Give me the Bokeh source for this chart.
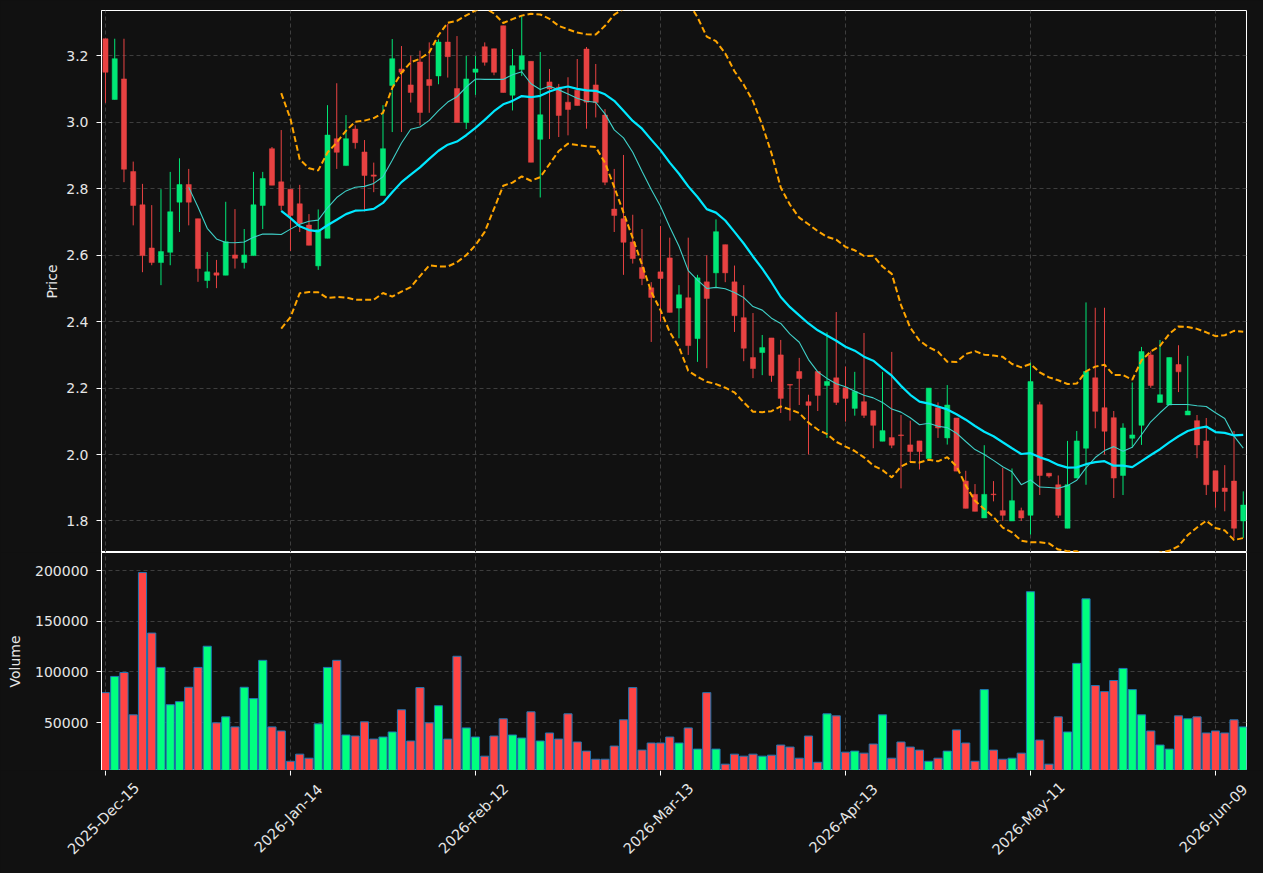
import math
import pandas as pd
from bokeh.plotting import figure
from bokeh.layouts import column, row
from bokeh.models import ColumnDataSource, FixedTicker, Range1d, NumeralTickFormatter
from bokeh.core.properties import value
from bokeh.embed import file_html
from bokeh.resources import INLINE

# ---------------- data ----------------
opens = [3.252, 3.069, 3.131, 2.852, 2.752, 2.622, 2.578, 2.609, 2.760, 2.813,
         2.710, 2.524, 2.547, 2.540, 2.601, 2.578, 2.599, 2.750, 2.921, 2.821,
         2.799, 2.755, 2.691, 2.568, 2.651, 2.951, 2.870, 2.980, 2.911, 2.842,
         2.780, 3.111, 3.161, 3.113, 3.182, 3.129, 3.140, 3.242, 3.102, 3.000,
         3.151, 3.228, 3.222, 3.291, 3.082, 3.159, 3.184, 2.949, 3.122, 3.106,
         3.061, 3.097, 3.221, 3.113, 3.022, 2.739, 2.710, 2.640, 2.563, 2.502,
         2.550, 2.592, 2.441, 2.472, 2.349, 2.520, 2.547, 2.632, 2.520, 2.412,
         2.292, 2.307, 2.351, 2.300, 2.211, 2.250, 2.159, 2.250, 2.208, 2.231,
         2.201, 2.139, 2.159, 2.132, 2.040, 2.051, 2.059, 2.029, 2.041, 1.988,
         2.141, 2.050, 2.110, 1.920, 1.880, 1.809, 1.881, 1.831, 1.800, 1.831,
         1.817, 2.150, 1.944, 1.909, 1.778, 1.929, 2.019, 2.231, 2.141, 2.111,
         1.937, 2.049, 2.088, 2.300, 2.157, 2.149, 2.271, 2.119, 2.102, 2.041,
         1.951, 1.899, 1.920, 1.800]
highs = [3.252, 3.252, 3.252, 2.882, 2.815, 2.751, 2.799, 2.851, 2.892, 2.860,
         2.710, 2.610, 2.586, 2.761, 2.739, 2.679, 2.851, 2.851, 2.926, 2.977,
         2.799, 2.812, 2.724, 2.738, 3.052, 3.118, 3.022, 2.991, 2.947, 2.879,
         3.052, 3.251, 3.230, 3.201, 3.216, 3.241, 3.250, 3.297, 3.260, 3.200,
         3.200, 3.241, 3.222, 3.291, 3.221, 3.320, 3.184, 3.212, 3.161, 3.116,
         3.136, 3.191, 3.227, 3.176, 3.040, 2.860, 2.902, 2.722, 2.679, 2.519,
         2.688, 2.653, 2.510, 2.653, 2.541, 2.600, 2.708, 2.632, 2.569, 2.510,
         2.426, 2.360, 2.351, 2.345, 2.211, 2.291, 2.180, 2.250, 2.368, 2.429,
         2.265, 2.249, 2.366, 2.132, 2.249, 2.309, 2.119, 2.102, 2.041, 2.200,
         2.157, 2.209, 2.110, 1.951, 1.911, 2.028, 1.920, 1.960, 1.958, 1.840,
         2.277, 2.159, 1.944, 1.937, 2.041, 2.071, 2.458, 2.442, 2.442, 2.131,
         2.094, 2.217, 2.324, 2.311, 2.345, 2.292, 2.329, 2.297, 2.119, 2.110,
         1.951, 1.968, 2.071, 1.889]
lows = [3.059, 3.069, 2.820, 2.690, 2.549, 2.570, 2.510, 2.570, 2.670, 2.690,
        2.520, 2.501, 2.501, 2.540, 2.560, 2.560, 2.599, 2.679, 2.811, 2.735,
        2.613, 2.670, 2.630, 2.556, 2.651, 2.860, 2.870, 2.921, 2.732, 2.790,
        2.780, 2.971, 2.971, 3.060, 2.991, 3.029, 3.115, 3.135, 3.000, 2.980,
        3.083, 3.171, 3.142, 3.090, 3.036, 3.140, 2.880, 2.774, 2.950, 2.956,
        2.961, 3.051, 2.981, 3.015, 2.811, 2.670, 2.541, 2.575, 2.510, 2.339,
        2.400, 2.428, 2.350, 2.300, 2.279, 2.260, 2.502, 2.519, 2.369, 2.281,
        2.230, 2.239, 2.219, 2.125, 2.102, 2.149, 2.000, 2.131, 2.050, 2.149,
        2.099, 2.117, 2.110, 2.019, 2.040, 2.019, 1.898, 1.979, 1.955, 1.988,
        2.050, 2.030, 1.950, 1.838, 1.829, 1.809, 1.859, 1.800, 1.800, 1.800,
        1.759, 1.878, 1.930, 1.809, 1.778, 1.929, 1.909, 2.079, 2.000, 1.869,
        1.878, 2.021, 2.029, 2.201, 2.157, 2.149, 2.188, 2.119, 1.989, 1.878,
        1.840, 1.829, 1.748, 1.749]
closes = [3.151, 3.192, 2.859, 2.750, 2.599, 2.578, 2.611, 2.731, 2.813, 2.760,
          2.560, 2.550, 2.540, 2.641, 2.591, 2.601, 2.752, 2.831, 2.811, 2.750,
          2.720, 2.696, 2.630, 2.677, 2.962, 2.910, 2.951, 2.939, 2.840, 2.838,
          2.921, 3.192, 3.151, 3.090, 3.030, 3.111, 3.242, 3.198, 3.000, 3.131,
          3.161, 3.181, 3.151, 3.090, 3.171, 3.201, 2.880, 3.023, 3.101, 3.021,
          3.039, 3.051, 3.061, 3.060, 2.820, 2.720, 2.639, 2.590, 2.530, 2.473,
          2.530, 2.428, 2.481, 2.328, 2.532, 2.470, 2.671, 2.547, 2.418, 2.320,
          2.259, 2.322, 2.238, 2.169, 2.209, 2.229, 2.148, 2.178, 2.220, 2.157,
          2.169, 2.190, 2.118, 2.088, 2.072, 2.028, 2.057, 2.009, 2.009, 2.200,
          2.080, 2.149, 1.950, 1.838, 1.829, 1.880, 1.879, 1.817, 1.861, 1.809,
          2.220, 1.937, 1.935, 1.817, 1.909, 2.041, 2.250, 2.130, 2.070, 1.929,
          2.080, 2.059, 2.310, 2.208, 2.180, 2.292, 2.249, 2.131, 2.029, 1.909,
          1.889, 1.889, 1.778, 1.848]
volumes = [79500, 95500, 99400, 57600, 198000, 138300, 104400, 67600, 70600, 84800,
           104400, 125300, 49700, 55600, 45700, 84800, 73600, 111400, 45700, 41700,
           11800, 18800, 14800, 48700, 104400, 111400, 37700, 36700, 50700, 33700,
           35700, 40700, 62600, 31800, 84500, 49700, 66600, 33700, 115400, 44700,
           35700, 16800, 36700, 53700, 37700, 34700, 60600, 31800, 39700, 33700,
           58600, 30800, 21800, 13800, 13800, 26800, 52700, 84500, 22800, 29800,
           29800, 35700, 29800, 44700, 23800, 79500, 23800, 8900, 18800, 16800,
           18800, 16800, 17800, 27800, 25800, 14800, 36700, 10800, 58600, 56600,
           20800, 21800, 19800, 28800, 57600, 14800, 30800, 25800, 22800, 11800,
           14800, 21800, 42700, 29800, 11800, 82500, 22800, 13800, 14800, 19800,
           179100, 32700, 8900, 55600, 40700, 108400, 172100, 86500, 80500, 91500,
           103400, 82500, 57600, 41700, 27800, 23800, 56600, 53700, 55600, 39700,
           41700, 39700, 52700, 45700]

tick_positions = [0, 20, 40, 60, 80, 100, 120]
tick_labels = ["2025-Dec-15", "2026-Jan-14", "2026-Feb-12", "2026-Mar-13",
               "2026-Apr-13", "2026-May-11", "2026-Jun-09"]
price_ticks = [1.8, 2.0, 2.2, 2.4, 2.6, 2.8, 3.0, 3.2]
volume_ticks = [50000, 100000, 150000, 200000]

# ---------------- styling ----------------
BG = "#111111"
UP_C, DN_C = "#00e676", "#e84242"
UP_V, DN_V = "#00ff7f", "#ff4444"
TXT = "#e6e6e6"
GRID = "#3e3e3e"
FONT = "DejaVu Sans"
W = 1263
LEFT, RIGHT = 101, 17
X0, X1 = -0.43, 123.35

n = len(closes)
idx = list(range(n))
up = [c >= o for o, c in zip(opens, closes)]

cs = pd.Series(closes, dtype=float)
ma10 = cs.rolling(10).mean()
ma20 = cs.rolling(20).mean()
sd20 = cs.rolling(20).std(ddof=0)
bb_up = ma20 + 2 * sd20
bb_lo = ma20 - 2 * sd20

src = ColumnDataSource(dict(
    x=idx, open=opens, close=closes, high=highs, low=lows,
    top=[max(o, c) for o, c in zip(opens, closes)],
    bottom=[min(o, c) for o, c in zip(opens, closes)],
    color=[UP_C if u else DN_C for u in up],
    vol=volumes,
    vcolor=[UP_V if u else DN_V for u in up],
))
lsrc = ColumnDataSource(dict(x=idx, ma10=ma10.values, ma20=ma20.values,
                             up=bb_up.values, lo=bb_lo.values))

xr = Range1d(X0, X1)


def style(p, label_standoff):
    p.background_fill_color = BG
    p.border_fill_color = BG
    p.outline_line_color = "white"
    p.outline_line_width = 1
    for g in (p.xgrid, p.ygrid):
        g.grid_line_color = GRID
        g.grid_line_dash = "4 3"
        g.grid_line_width = 1
    p.xgrid.ticker = FixedTicker(ticks=tick_positions)
    ax = p.yaxis[0]
    ax.axis_line_color = "white"
    ax.major_tick_line_color = "white"
    ax.major_tick_out = 5
    ax.major_tick_in = 0
    ax.minor_tick_line_color = None
    ax.major_label_standoff = 8
    ax.major_label_text_color = TXT
    ax.major_label_text_font = FONT
    ax.major_label_text_font_size = "14px"
    ax.axis_label_text_color = TXT
    ax.axis_label_text_font = FONT
    ax.axis_label_text_font_size = "14px"
    ax.axis_label_text_font_style = "normal"
    ax.axis_label_standoff = label_standoff


# ---------------- price panel ----------------
p1 = figure(width=W, height=552, x_range=xr, y_range=Range1d(1.705, 3.337),
            x_axis_location=None, output_backend="svg", toolbar_location=None,
            min_border_left=LEFT, min_border_right=RIGHT, min_border_top=10,
            min_border_bottom=0)
style(p1, 3)
p1.yaxis.ticker = FixedTicker(ticks=price_ticks)
p1.yaxis.formatter = NumeralTickFormatter(format="0.0")
p1.yaxis.axis_label = "Price"

p1.segment(x0="x", y0="low", x1="x", y1="high", line_color="color", line_width=1, source=src)
p1.vbar(x="x", width=0.55, top="top", bottom="bottom", fill_color="color",
        line_color="color", line_width=0.5, source=src)
p1.line("x", "ma10", source=lsrc, line_color="#3fd0c8", line_width=1.1)
p1.line("x", "ma20", source=lsrc, line_color="#00e8ff", line_width=2.2)
p1.line("x", "up", source=lsrc, line_color="#ffa500", line_width=2, line_dash="6 3")
p1.line("x", "lo", source=lsrc, line_color="#ffa500", line_width=2, line_dash="6 3")

# ---------------- volume panel ----------------
vmin = 0.3 * min(volumes)
vmax = 1.1 * max(volumes)
p2 = figure(width=W, height=218, x_range=xr, y_range=Range1d(vmin, vmax),
            x_axis_location=None, output_backend="svg", toolbar_location=None,
            min_border_left=LEFT, min_border_right=RIGHT, min_border_top=0,
            min_border_bottom=0)
style(p2, 9)
p2.yaxis.ticker = FixedTicker(ticks=volume_ticks)
p2.yaxis.formatter = NumeralTickFormatter(format="0")
p2.yaxis.axis_label = "Volume"
p2.vbar(x="x", width=0.88, top="vol", bottom=0, fill_color="vcolor",
        line_color="#1f77b4", line_width=1, source=src)

# ---------------- date axis strip (ticks + rotated labels) ----------------
upx = (X1 - X0) / (W - LEFT - RIGHT)          # data units per pixel
x_lo = X0 - LEFT * upx
x_hi = X1 + RIGHT * upx
H3 = 103
p3 = figure(width=W, height=H3, x_range=Range1d(x_lo, x_hi), y_range=Range1d(0, H3),
            x_axis_location=None, y_axis_location=None, output_backend="svg",
            toolbar_location=None, min_border=0)
p3.background_fill_color = BG
p3.border_fill_color = BG
p3.outline_line_color = None
p3.xgrid.visible = False
p3.ygrid.visible = False
tsrc = ColumnDataSource(dict(x=tick_positions, text=tick_labels,
                             y0=[H3] * len(tick_positions), y1=[H3 - 5] * len(tick_positions),
                             ylab=[H3 - 48] * len(tick_positions)))
p3.segment(x0="x", y0="y0", x1="x", y1="y1", line_color="white", line_width=1, source=tsrc)
p3.text(x="x", y="ylab", text="text", angle=math.pi / 4, text_align="center",
        text_baseline="middle", text_color=TXT, text_font=value(FONT),
        text_font_size="14.5px", x_offset=-2, source=tsrc)

layout = column(column(p1, p2, spacing=0), row(p3), spacing=0)
layout.styles = {"background-color": BG}
open("out.html", "w").write(file_html(layout, INLINE))
